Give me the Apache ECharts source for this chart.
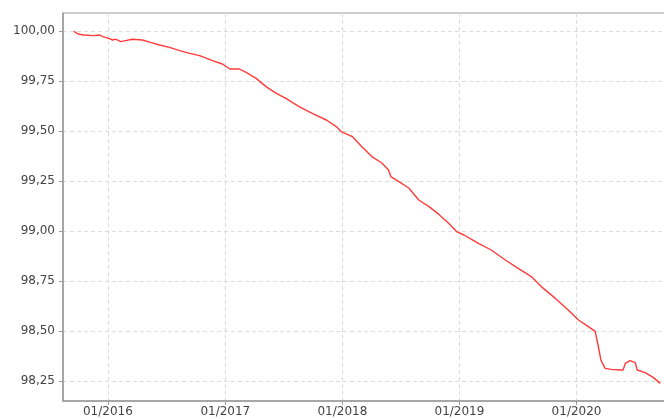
<!DOCTYPE html>
<html>
<head>
<meta charset="utf-8">
<script src="https://cdn.jsdelivr.net/npm/echarts@6/dist/echarts.min.js"></script>
<style>
  html, body { margin: 0; padding: 0; background: #fff; }
  #chart { width: 664px; height: 419px; }
</style>
</head>
<body>
<div id="chart"></div>
<script>
// dates and values
var dates = [
  '2015-09-17', '2015-09-20', '2015-09-30', '2015-10-17', '2015-11-16', '2015-12-07', '2015-12-16',
  '2016-01-01', '2016-01-16', '2016-01-25', '2016-02-10', '2016-02-25', '2016-03-17', '2016-04-18',
  '2016-05-10', '2016-06-10', '2016-07-11', '2016-08-12', '2016-09-12', '2016-10-13', '2016-11-22',
  '2016-12-23', '2017-01-15', '2017-02-14', '2017-03-07', '2017-04-07', '2017-05-08', '2017-06-09',
  '2017-07-09', '2017-08-19', '2017-09-29', '2017-11-12', '2017-12-13', '2017-12-28', '2018-02-01',
  '2018-03-02', '2018-04-03', '2018-05-04', '2018-05-25', '2018-06-01', '2018-06-26', '2018-07-27',
  '2018-08-27', '2018-09-28', '2018-10-29', '2018-11-29', '2018-12-23', '2019-01-15', '2019-02-20',
  '2019-03-01', '2019-04-10', '2019-05-24', '2019-07-03', '2019-08-13', '2019-09-13', '2019-10-27',
  '2019-12-06', '2020-01-07', '2020-02-07', '2020-02-28', '2020-03-08', '2020-03-17', '2020-03-30',
  '2020-04-18', '2020-05-16', '2020-05-25', '2020-06-01', '2020-06-16', '2020-07-02', '2020-07-08',
  '2020-08-02', '2020-08-27', '2020-09-18'
];
var values = [
  99.998, 100.005, 99.985, 99.980, 99.977, 99.980, 99.972,
  99.964, 99.955, 99.959, 99.947, 99.952, 99.959, 99.955,
  99.944, 99.930, 99.918, 99.902, 99.888, 99.877, 99.852,
  99.835, 99.810, 99.810, 99.793, 99.763, 99.722, 99.688,
  99.663, 99.622, 99.588, 99.555, 99.522, 99.497, 99.472,
  99.422, 99.372, 99.340, 99.305, 99.272, 99.247, 99.215,
  99.155, 99.122, 99.083, 99.038, 98.997, 98.980, 98.947,
  98.938, 98.905, 98.855, 98.813, 98.772, 98.722, 98.663,
  98.605, 98.555, 98.522, 98.498, 98.430, 98.355, 98.313,
  98.308, 98.305, 98.305, 98.338, 98.352, 98.342, 98.305,
  98.292, 98.268, 98.238
];
var yTicks = [98.25, 98.5, 98.75, 99.0, 99.25, 99.5, 99.75, 100.0];
var xTickYears = [2016, 2017, 2018, 2019, 2020];
var xRange = ['2015-08-14', '2020-10-09'];

function toTime(s) {
    var p = s.split('-');
    return Date.UTC(+p[0], +p[1] - 1, +p[2]);
}
function pad(n) { return n < 10 ? '0' + n : '' + n; }

var xTicks = xTickYears.map(function (y) { return Date.UTC(y, 0, 1); });
var seriesData = dates.map(function (d, i) { return [toTime(d), values[i]]; });

var chart = echarts.init(document.getElementById('chart'));

var option = {
    animation: false,
    textStyle: { fontFamily: 'DejaVu Sans' },
    grid: {
        left: 63, top: 13, right: -3, bottom: 18,
        outerBoundsMode: 'none',
        show: true,
        borderColor: '#9a9a9a',
        borderWidth: 1
    },
    xAxis: {
        type: 'value',
        min: toTime(xRange[0]),
        max: toTime(xRange[1]),
        axisLine: { show: true, lineStyle: { color: '#9a9a9a', width: 1.5 } },
        axisTick: { show: true, length: 4, customValues: xTicks, lineStyle: { color: '#9a9a9a' } },
        axisLabel: {
            customValues: xTicks,
            color: '#444', fontSize: 12, margin: 5,
            formatter: function (v) {
                var d = new Date(v);
                return pad(d.getUTCMonth() + 1) + '/' + d.getUTCFullYear();
            }
        },
        splitLine: { show: true, lineStyle: { color: '#dcdcdc', type: [4, 3] } }
    },
    yAxis: {
        type: 'value',
        min: 98.15,
        max: 100.09,
        axisLine: { show: true, lineStyle: { color: '#9a9a9a', width: 1.5 } },
        axisTick: { show: true, length: 4, customValues: yTicks, lineStyle: { color: '#9a9a9a' } },
        axisLabel: {
            customValues: yTicks,
            color: '#444', fontSize: 12, margin: 8,
            formatter: function (v) { return v.toFixed(2).replace('.', ','); }
        },
        splitLine: { show: true, lineStyle: { color: '#dcdcdc', type: [4, 3] } }
    },
    series: [
        {
            type: 'line',
            data: seriesData,
            showSymbol: false,
            lineStyle: { color: '#ff3b3b', width: 1.4 }
        }
    ]
};

chart.setOption(option);
</script>
</body>
</html>
